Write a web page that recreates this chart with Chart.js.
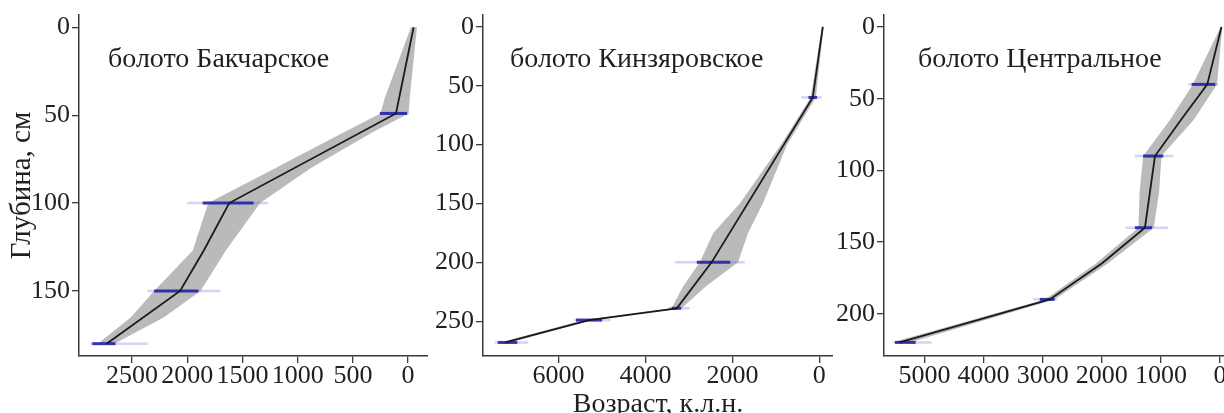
<!DOCTYPE html>
<html>
<head>
<meta charset="utf-8">
<script src="https://cdn.jsdelivr.net/npm/chart.js@4.4.0/dist/chart.umd.min.js"></script>
<style>
    html, body { margin: 0; padding: 0; background: #fff; overflow: hidden; }
    body { width: 1224px; height: 413px; position: relative; }
    .panel { position: absolute; top: 0; height: 413px; }
</style>
</head>
<body>
<div class="panel" style="left:0px;width:428px"><canvas id="c1" width="428" height="413"></canvas></div>
<div class="panel" style="left:430px;width:403px"><canvas id="c2" width="403" height="413"></canvas></div>
<div class="panel" style="left:833px;width:391px"><canvas id="c3" width="391" height="413"></canvas></div>
<script>
// Болото Бакчарское
const bakTitle = 'болото Бакчарское';
const bakDepth = [0, 49, 100, 127, 150, 180];
const bakAge = [-50, 110, 1620, 1850, 2065, 2730];
const bakBandDepth = [0, 40, 49, 60, 80, 100, 127, 150, 165, 180];
const bakBandMin = [-80, -15, -5, 330, 880, 1340, 1650, 1880, 2210, 2660];
const bakBandMax = [-25, 210, 250, 590, 1200, 1810, 1950, 2300, 2510, 2810];
const bakDateDepth = [49, 100, 150, 180];
const bakDateFrom = [0, 1270, 1700, 2360];
const bakDateTo = [260, 2000, 2360, 2880];
const bakCoreFrom = [10, 1400, 1900, 2650];
const bakCoreTo = [255, 1860, 2300, 2860];
const bakXTicks = [0, 500, 1000, 1500, 2000, 2500];
const bakYTicks = [0, 50, 100, 150];

// Болото Кинзяровское
const kinTitle = 'болото Кинзяровское';
const kinDepth = [0, 60, 200, 239, 249, 268];
const kinAge = [-80, 150, 2480, 3280, 5300, 7230];
const kinBandDepth = [0, 60, 100, 150, 175, 200, 220, 239, 249, 268];
const kinBandMin = [-100, 80, 740, 1300, 1640, 1870, 2600, 3170, 5200, 7120];
const kinBandMax = [-60, 200, 880, 1830, 2440, 2750, 3130, 3400, 5420, 7340];
const kinDateDepth = [60, 200, 239, 249, 268];
const kinDateFrom = [-60, 1710, 2980, 4800, 6700];
const kinDateTo = [410, 3320, 3480, 5650, 7470];
const kinCoreFrom = [50, 2050, 3180, 5000, 6950];
const kinCoreTo = [250, 2820, 3400, 5600, 7400];
const kinXTicks = [0, 2000, 4000, 6000];
const kinYTicks = [0, 50, 100, 150, 200, 250];

// Болото Центральное
const cenTitle = 'болото Центральное';
const cenDepth = [0, 40, 65, 90, 140, 165, 190, 220];
const cenAge = [-25, 215, 665, 1100, 1270, 2000, 2880, 5420];
const cenBandDepth = [0, 40, 65, 90, 115, 140, 165, 190, 220];
const cenBandMin = [-40, 50, 450, 990, 1030, 1120, 1900, 2800, 5250];
const cenBandMax = [-10, 460, 850, 1300, 1360, 1380, 2100, 2960, 5560];
const cenDateDepth = [40, 90, 140, 190, 220];
const cenDateFrom = [30, 790, 875, 2760, 4880];
const cenDateTo = [540, 1440, 1600, 3160, 5500];
const cenCoreFrom = [80, 960, 1150, 2800, 5150];
const cenCoreTo = [480, 1300, 1440, 3050, 5500];
const cenXTicks = [0, 1000, 2000, 3000, 4000, 5000];
const cenYTicks = [0, 50, 100, 150, 200];

const FONT = "'Liberation Serif', 'DejaVu Serif', serif";
const AXIS_COLOR = '#3a3a3a';

// полигон доверительного интервала: вниз по молодой границе, вверх по старой
function bandPolygon(depth, minAge, maxAge) {
    const pts = depth.map((d, i) => ({ x: minAge[i], y: d }));
    for (let i = depth.length - 1; i >= 0; i--) {
        pts.push({ x: maxAge[i], y: depth[i] });
    }
    return pts;
}

function dateBars(depth, from, to, color, width) {
    return depth.map((d, i) => ({
        data: [{ x: from[i], y: d }, { x: to[i], y: d }],
        showLine: true,
        borderColor: color,
        borderWidth: width,
        pointRadius: 0,
        borderCapStyle: 'butt'
    }));
}

const panelTitlePlugin = {
    id: 'panelTitle',
    afterDraw(chart, args, opts) {
        const ctx = chart.ctx;
        ctx.save();
        ctx.font = `${opts.size}px ${FONT}`;
        ctx.fillStyle = '#231f20';
        ctx.textBaseline = 'middle';
        ctx.textAlign = 'left';
        ctx.fillText(opts.text, chart.chartArea.left + opts.dx, opts.y);
        ctx.restore();
    }
};

function criarPainel(id, p) {
    const datasets = [];
    datasets.push({
        data: p.depth.map((d, i) => ({ x: p.age[i], y: d })),
        showLine: true,
        borderColor: '#1a1a1a',
        borderWidth: 1.8,
        pointRadius: 0,
        tension: 0
    });
    datasets.push(...dateBars(p.dateDepth, p.coreFrom, p.coreTo, 'rgba(35,35,170,0.9)', 3));
    datasets.push(...dateBars(p.dateDepth, p.dateFrom, p.dateTo, 'rgba(110,110,225,0.3)', 2.5));
    datasets.push({
        data: bandPolygon(p.bandDepth, p.bandMin, p.bandMax),
        showLine: true,
        borderWidth: 0,
        borderColor: 'rgba(0,0,0,0)',
        backgroundColor: '#bababa',
        fill: 'shape',
        pointRadius: 0,
        tension: 0
    });

    const tickFont = { family: FONT, size: 26, lineHeight: 1 };

    new Chart(document.getElementById(id), {
        type: 'scatter',
        data: { datasets: datasets },
        plugins: [panelTitlePlugin],
        options: {
            responsive: false,
            animation: false,
            layout: { padding: { top: 15, right: 0, bottom: 0, left: 0 } },
            plugins: {
                legend: { display: false },
                tooltip: { enabled: false },
                panelTitle: { text: p.title, dx: p.titleDx, y: 60, size: 28 }
            },
            scales: {
                x: {
                    type: 'linear',
                    reverse: true,
                    min: p.xMin,
                    max: p.xMax,
                    afterBuildTicks: s => { s.ticks = p.xTicks.map(v => ({ value: v })); },
                    afterFit: s => { s.height = 57; },
                    grid: { display: true, drawOnChartArea: false, drawTicks: true, tickLength: 7, color: AXIS_COLOR, lineWidth: 1.3 },
                    border: { display: true, color: AXIS_COLOR, width: 1.5 },
                    ticks: { color: '#231f20', font: tickFont, padding: 0, autoSkip: false, maxRotation: 0, callback: v => String(v) },
                    title: p.xTitle ? {
                        display: true,
                        text: p.xTitle,
                        color: '#231f20',
                        font: { family: FONT, size: 28, lineHeight: 1 },
                        padding: { top: 0, bottom: -6 }
                    } : { display: false }
                },
                y: {
                    type: 'linear',
                    reverse: true,
                    min: p.yMin,
                    max: p.yMax,
                    afterBuildTicks: s => { s.ticks = p.yTicks.map(v => ({ value: v })); },
                    afterFit: s => { s.width = p.yWidth; },
                    grid: { display: true, drawOnChartArea: false, drawTicks: true, tickLength: 7, color: AXIS_COLOR, lineWidth: 1.3 },
                    border: { display: true, color: AXIS_COLOR, width: 1.5 },
                    ticks: { color: '#231f20', font: tickFont, padding: 2, autoSkip: false, callback: v => String(v) },
                    title: p.yTitle ? {
                        display: true,
                        text: p.yTitle,
                        color: '#231f20',
                        font: { family: FONT, size: 29, lineHeight: 1 },
                        padding: { top: 8, bottom: 0 }
                    } : { display: false }
                }
            }
        }
    });
}

criarPainel('c1', {
    title: bakTitle, titleDx: 29,
    depth: bakDepth, age: bakAge,
    bandDepth: bakBandDepth, bandMin: bakBandMin, bandMax: bakBandMax,
    dateDepth: bakDateDepth, dateFrom: bakDateFrom, dateTo: bakDateTo, coreFrom: bakCoreFrom, coreTo: bakCoreTo,
    xTicks: bakXTicks, yTicks: bakYTicks,
    xMin: -180, xMax: 2980, yMin: -7, yMax: 187, yWidth: 79,
    yTitle: 'Глубина, см'
});

criarPainel('c2', {
    title: kinTitle, titleDx: 27,
    depth: kinDepth, age: kinAge,
    bandDepth: kinBandDepth, bandMin: kinBandMin, bandMax: kinBandMax,
    dateDepth: kinDateDepth, dateFrom: kinDateFrom, dateTo: kinDateTo, coreFrom: kinCoreFrom, coreTo: kinCoreTo,
    xTicks: kinXTicks, yTicks: kinYTicks,
    xMin: -315, xMax: 7740, yMin: -10, yMax: 279.5, yWidth: 53,
    xTitle: 'Возраст, к.л.н.'
});

criarPainel('c3', {
    title: cenTitle, titleDx: 34,
    depth: cenDepth, age: cenAge,
    bandDepth: cenBandDepth, bandMin: cenBandMin, bandMax: cenBandMax,
    dateDepth: cenDateDepth, dateFrom: cenDateFrom, dateTo: cenDateTo, coreFrom: cenCoreFrom, coreTo: cenCoreTo,
    xTicks: cenXTicks, yTicks: cenYTicks,
    xMin: -68, xMax: 5685, yMin: -8.4, yMax: 229.5, yWidth: 51
});
</script>
</body>
</html>
